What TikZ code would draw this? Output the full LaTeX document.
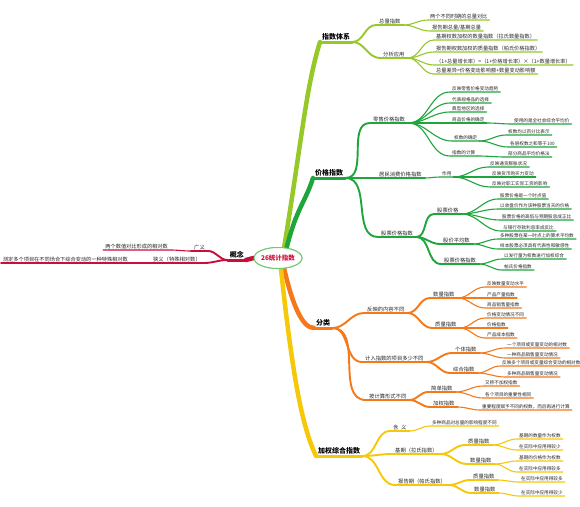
\documentclass[tikz,border=0pt]{standalone}
\usepackage{fontspec}
\setmainfont{Noto Sans CJK SC}
\usetikzlibrary{shapes.geometric}
\definecolor{rootred}{RGB}{208,16,58}
\definecolor{rootring}{RGB}{110,200,110}
\definecolor{limeb}{RGB}{150,200,40}
\definecolor{greenb}{RGB}{30,165,60}
\definecolor{orangeb}{RGB}{245,120,25}
\definecolor{yellowb}{RGB}{245,200,10}
\definecolor{redb}{RGB}{200,15,60}

\begin{document}
\begin{tikzpicture}[x=1pt, y=-1pt,
  root/.style={ellipse, draw=rootring, line width=1pt, fill=white, text=rootred,
               font=\bfseries\fontsize{6.5}{7}\selectfont, minimum width=40pt,
               minimum height=21pt, inner sep=0pt},
  topic/.style={anchor=south west, inner xsep=2pt, inner ysep=1.2pt,
                font=\bfseries\fontsize{7}{8}\selectfont},
  sub/.style={anchor=south west, inner xsep=3pt, inner ysep=1pt, text=black!85,
              font=\fontsize{5.3}{6}\selectfont},
  leaf/.style={anchor=south west, inner xsep=2pt, inner ysep=0.7pt, text=black!85,
               font=\fontsize{4.6}{5}\selectfont},
  bigleaf/.style={leaf, font=\fontsize{5.2}{6}\selectfont},
  trunk/.style={line width=4.5pt, line cap=round},
  limb/.style={line width=3pt, line cap=round},
  twig/.style={line width=1.9pt, line cap=round},
  vein/.style={line width=1.1pt, line cap=round}
]
  \path[use as bounding box, fill=white] (0,0) rectangle (580,506);

  \node[topic] (tixi) at (320,42) {指数体系};
  \node[sub] (zlzs) at (376,25) {总量指数};
  \node[sub] (fxyy) at (380,58) {分析应用};
  \node[bigleaf] (zl1) at (428,20) {两个不同时期的总量对比};
  \node[bigleaf] (zl2) at (430,31) {报告期总量/基期总量};
  \node[bigleaf] (fx1) at (434,40) {基期权数加权的数量指数（拉氏数量指数）};
  \node[bigleaf] (fx2) at (434,52) {报告期权数加权的质量指数（帕氏价格指数）};
  \node[bigleaf] (fx3) at (434,65) {（1+总量增长率）=（1+价格增长率）×（1+数量增长率）};
  \node[bigleaf] (fx4) at (434,74) {总量差异=价格变动影响额+数量变动影响额};

  \node[topic] (jgzs) at (313,178) {价格指数};
  \node[sub] (lszs) at (370,123) {零售价格指数};
  \node[sub] (jmxf) at (376,178) {居民消费价格指数};
  \node[sub] (gpzs) at (378,237) {股票价格指数};
  \node[leaf] (ls1) at (450,92) {反映零售价格变动趋势};
  \node[leaf] (ls2) at (450,103) {代表规格品的选择};
  \node[leaf] (ls3) at (450,112) {典型地区的选择};
  \node[leaf] (ls4) at (450,123) {商品价格的确定};
  \node[leaf] (ls5) at (452,141) {权数的确定};
  \node[leaf] (ls6) at (450,156) {指数的计算};
  \node[leaf] (ls4a) at (512,124) {使用的是全社会综合平均价};
  \node[leaf] (ls5a) at (506,135) {权数均以百分比表示};
  \node[leaf] (ls5b) at (508,147) {各层权数之和等于100};
  \node[leaf] (ls6a) at (506,157) {部分商品平均价格法};
  \node[leaf] (zy) at (440,177) {作用};
  \node[leaf] (zy1) at (488,167) {反映通货膨胀状况};
  \node[leaf] (zy2) at (490,177) {反映货币购买力变动};
  \node[leaf] (zy3) at (490,187) {反映对职工实际工资的影响};
  \node[sub] (gpjg) at (434,214) {股票价格};
  \node[sub] (gjpj) at (440,244) {股价平均数};
  \node[sub] (gpjz) at (441,264) {股票价格指数};
  \node[leaf] (jg1) at (498,199) {股票价格是一个时点值};
  \node[leaf] (jg2) at (498,209) {以收盘价作为该种股票当天的价格};
  \node[leaf] (jg3) at (500,220) {股票价格的高低与预期股息成正比};
  \node[leaf] (jg4) at (501,231) {与银行存款利息率成反比};
  \node[leaf] (pj1) at (498,239) {多种股票在某一时点上的算术平均数};
  \node[leaf] (pj2) at (498,249) {样本股票必须具有代表性和敏感性};
  \node[leaf] (zs1) at (502,259) {以发行量为权数进行加权综合};
  \node[leaf] (zs2) at (502,270) {帕氏价格指数};

  \node[topic] (fl) at (314,328) {分类};
  \node[sub] (fy) at (364,313) {反映的内容不同};
  \node[sub] (jr) at (362,362) {计入指数的项目多少不同};
  \node[sub] (aj) at (366,400) {按计算形式不同};
  \node[sub] (slzs) at (430,298) {数量指数};
  \node[sub] (zlzs2) at (432,328) {质量指数};
  \node[sub] (gtzs) at (452,353) {个体指数};
  \node[sub] (zhzs) at (450,373) {综合指数};
  \node[sub] (jdzs) at (428,392) {简单指数};
  \node[sub] (jqzs) at (430,407) {加权指数};
  \node[leaf] (sl1) at (485,287) {反映数量变动水平};
  \node[leaf] (sl2) at (485,298) {产品产量指数};
  \node[leaf] (sl3) at (485,308) {商品销售量指数};
  \node[leaf] (zl3) at (485,318) {价格变动情况不同};
  \node[leaf] (zl4) at (485,328) {价格指数};
  \node[leaf] (zl5) at (485,338) {产品成本指数};
  \node[leaf] (gt1) at (505,348) {一个项目或变量变动的相对数};
  \node[leaf] (gt2) at (505,358) {一种商品销售量变动情况};
  \node[leaf] (zh1) at (500,366) {反映多个项目或变量综合变动的相对数};
  \node[leaf] (zh2) at (505,377) {多种商品销售量变动情况};
  \node[leaf] (jd1) at (483,386) {又称不加权指数};
  \node[leaf] (jd2) at (483,398) {各个项目的重要性相同};
  \node[leaf] (jq1) at (480,410) {重要程度赋予不同的权数，而后再进行计算};

  \node[topic] (jqzh) at (316,456) {加权综合指数};
  \node[sub] (hy) at (390,431) {含\enspace 义};
  \node[sub] (jqlb) at (392,454) {基期（拉氏指数）};
  \node[sub] (bgps) at (395,485) {报告期（帕氏指数）};
  \node[sub] (lszl) at (465,445) {质量指数};
  \node[sub] (lssl) at (467,464) {数量指数};
  \node[sub] (pszl) at (470,480) {质量指数};
  \node[sub] (pssl) at (471,493) {数量指数};
  \node[leaf] (hy1) at (430,426) {多种商品对总量的影响程度不同};
  \node[leaf] (lz1) at (517,439) {基期的数量作为权数};
  \node[leaf] (lz2) at (517,450) {在实际中应用得较少};
  \node[leaf] (ls7) at (517,461) {基期的价格作为权数};
  \node[leaf] (ls8) at (517,472) {在实际中应用得较多};
  \node[leaf] (pz1) at (519,482) {在实际中应用得较多};
  \node[leaf] (ps1) at (519,496) {在实际中应用得较少};

  \node[topic, anchor=south east] (gn) at (246,260) {概念};
  \node[sub, anchor=south east] (gy) at (208,251) {广义};
  \node[sub, anchor=south east] (xy) at (204,263) {狭义（特殊相对数）};
  \node[bigleaf, anchor=south east] (gy1) at (170,250) {两个数值对比形成的相对数};
  \node[bigleaf, anchor=south east] (xy1) at (130,263) {测定多个项目在不同场合下综合变动的一种特殊相对数};

  \node[root] (root) at (278,258) {26统计指数};

  \draw[trunk, limeb] (root.60) .. controls +(18,-110) and +(-14,45) .. (tixi.south west);
  \draw[limb, limeb] (tixi.south west) -- (tixi.south east);
  \draw[twig, limeb] (tixi.south east) to[out=0,in=180] (zlzs.south west) -- (zlzs.south east);
  \draw[twig, limeb] (tixi.south east) to[out=0,in=180] (fxyy.south west) -- (fxyy.south east);
  \draw[vein, limeb] (zlzs.south east) to[out=0,in=180] (zl1.south west) -- (zl1.south east);
  \draw[vein, limeb] (zlzs.south east) to[out=0,in=180] (zl2.south west) -- (zl2.south east);
  \draw[vein, limeb] (fxyy.south east) to[out=0,in=180] (fx1.south west) -- (fx1.south east);
  \draw[vein, limeb] (fxyy.south east) to[out=0,in=180] (fx2.south west) -- (fx2.south east);
  \draw[vein, limeb] (fxyy.south east) to[out=0,in=180] (fx3.south west) -- (fx3.south east);
  \draw[vein, limeb] (fxyy.south east) to[out=0,in=180] (fx4.south west) -- (fx4.south east);

  \draw[trunk, greenb] (root.50) .. controls +(10,-40) and +(-8,25) .. (jgzs.south west);
  \draw[limb, greenb] (jgzs.south west) -- (jgzs.south east);
  \draw[twig, greenb] (jgzs.south east) to[out=0,in=180] (lszs.south west) -- (lszs.south east);
  \draw[twig, greenb] (jgzs.south east) to[out=0,in=180] (jmxf.south west) -- (jmxf.south east);
  \draw[twig, greenb] (jgzs.south east) to[out=0,in=180] (gpzs.south west) -- (gpzs.south east);
  \draw[vein, greenb] (lszs.south east) to[out=0,in=180] (ls1.south west) -- (ls1.south east);
  \draw[vein, greenb] (lszs.south east) to[out=0,in=180] (ls2.south west) -- (ls2.south east);
  \draw[vein, greenb] (lszs.south east) to[out=0,in=180] (ls3.south west) -- (ls3.south east);
  \draw[vein, greenb] (lszs.south east) to[out=0,in=180] (ls4.south west) -- (ls4.south east);
  \draw[vein, greenb] (lszs.south east) to[out=0,in=180] (ls5.south west) -- (ls5.south east);
  \draw[vein, greenb] (lszs.south east) to[out=0,in=180] (ls6.south west) -- (ls6.south east);
  \draw[vein, greenb] (ls4.south east) to[out=0,in=180] (ls4a.south west) -- (ls4a.south east);
  \draw[vein, greenb] (ls5.south east) to[out=0,in=180] (ls5a.south west) -- (ls5a.south east);
  \draw[vein, greenb] (ls5.south east) to[out=0,in=180] (ls5b.south west) -- (ls5b.south east);
  \draw[vein, greenb] (ls6.south east) to[out=0,in=180] (ls6a.south west) -- (ls6a.south east);
  \draw[vein, greenb] (jmxf.south east) to[out=0,in=180] (zy.south west) -- (zy.south east);
  \draw[vein, greenb] (zy.south east) to[out=0,in=180] (zy1.south west) -- (zy1.south east);
  \draw[vein, greenb] (zy.south east) to[out=0,in=180] (zy2.south west) -- (zy2.south east);
  \draw[vein, greenb] (zy.south east) to[out=0,in=180] (zy3.south west) -- (zy3.south east);
  \draw[twig, greenb] (gpzs.south east) to[out=0,in=180] (gpjg.south west) -- (gpjg.south east);
  \draw[twig, greenb] (gpzs.south east) to[out=0,in=180] (gjpj.south west) -- (gjpj.south east);
  \draw[twig, greenb] (gpzs.south east) to[out=0,in=180] (gpjz.south west) -- (gpjz.south east);
  \draw[vein, greenb] (gpjg.south east) to[out=0,in=180] (jg1.south west) -- (jg1.south east);
  \draw[vein, greenb] (gpjg.south east) to[out=0,in=180] (jg2.south west) -- (jg2.south east);
  \draw[vein, greenb] (gpjg.south east) to[out=0,in=180] (jg3.south west) -- (jg3.south east);
  \draw[vein, greenb] (gpjg.south east) to[out=0,in=180] (jg4.south west) -- (jg4.south east);
  \draw[vein, greenb] (gjpj.south east) to[out=0,in=180] (pj1.south west) -- (pj1.south east);
  \draw[vein, greenb] (gjpj.south east) to[out=0,in=180] (pj2.south west) -- (pj2.south east);
  \draw[vein, greenb] (gpjz.south east) to[out=0,in=180] (zs1.south west) -- (zs1.south east);
  \draw[vein, greenb] (gpjz.south east) to[out=0,in=180] (zs2.south west) -- (zs2.south east);

  \draw[trunk, orangeb] (root.-60) .. controls +(8,35) and +(-12,0) .. (fl.south west);
  \draw[limb, orangeb] (fl.south west) -- (fl.south east);
  \draw[twig, orangeb] (fl.south east) to[out=0,in=180] (fy.south west) -- (fy.south east);
  \draw[twig, orangeb] (fl.south east) to[out=0,in=180] (jr.south west) -- (jr.south east);
  \draw[twig, orangeb] (fl.south east) to[out=0,in=180] (aj.south west) -- (aj.south east);
  \draw[twig, orangeb] (fy.south east) to[out=0,in=180] (slzs.south west) -- (slzs.south east);
  \draw[twig, orangeb] (fy.south east) to[out=0,in=180] (zlzs2.south west) -- (zlzs2.south east);
  \draw[twig, orangeb] (jr.south east) to[out=0,in=180] (gtzs.south west) -- (gtzs.south east);
  \draw[twig, orangeb] (jr.south east) to[out=0,in=180] (zhzs.south west) -- (zhzs.south east);
  \draw[twig, orangeb] (aj.south east) to[out=0,in=180] (jdzs.south west) -- (jdzs.south east);
  \draw[twig, orangeb] (aj.south east) to[out=0,in=180] (jqzs.south west) -- (jqzs.south east);
  \draw[vein, orangeb] (slzs.south east) to[out=0,in=180] (sl1.south west) -- (sl1.south east);
  \draw[vein, orangeb] (slzs.south east) to[out=0,in=180] (sl2.south west) -- (sl2.south east);
  \draw[vein, orangeb] (slzs.south east) to[out=0,in=180] (sl3.south west) -- (sl3.south east);
  \draw[vein, orangeb] (zlzs2.south east) to[out=0,in=180] (zl3.south west) -- (zl3.south east);
  \draw[vein, orangeb] (zlzs2.south east) to[out=0,in=180] (zl4.south west) -- (zl4.south east);
  \draw[vein, orangeb] (zlzs2.south east) to[out=0,in=180] (zl5.south west) -- (zl5.south east);
  \draw[vein, orangeb] (gtzs.south east) to[out=0,in=180] (gt1.south west) -- (gt1.south east);
  \draw[vein, orangeb] (gtzs.south east) to[out=0,in=180] (gt2.south west) -- (gt2.south east);
  \draw[vein, orangeb] (zhzs.south east) to[out=0,in=180] (zh1.south west) -- (zh1.south east);
  \draw[vein, orangeb] (zhzs.south east) to[out=0,in=180] (zh2.south west) -- (zh2.south east);
  \draw[vein, orangeb] (jdzs.south east) to[out=0,in=180] (jd1.south west) -- (jd1.south east);
  \draw[vein, orangeb] (jdzs.south east) to[out=0,in=180] (jd2.south west) -- (jd2.south east);
  \draw[vein, orangeb] (jqzs.south east) to[out=0,in=180] (jq1.south west) -- (jq1.south east);

  \draw[trunk, yellowb] (root.-75) .. controls +(12,110) and +(-14,-30) .. (jqzh.south west);
  \draw[limb, yellowb] (jqzh.south west) -- (jqzh.south east);
  \draw[twig, yellowb] (jqzh.south east) to[out=0,in=180] (hy.south west) -- (hy.south east);
  \draw[twig, yellowb] (jqzh.south east) to[out=0,in=180] (jqlb.south west) -- (jqlb.south east);
  \draw[twig, yellowb] (jqzh.south east) to[out=0,in=180] (bgps.south west) -- (bgps.south east);
  \draw[vein, yellowb] (hy.south east) to[out=0,in=180] (hy1.south west) -- (hy1.south east);
  \draw[twig, yellowb] (jqlb.south east) to[out=0,in=180] (lszl.south west) -- (lszl.south east);
  \draw[twig, yellowb] (jqlb.south east) to[out=0,in=180] (lssl.south west) -- (lssl.south east);
  \draw[twig, yellowb] (bgps.south east) to[out=0,in=180] (pszl.south west) -- (pszl.south east);
  \draw[twig, yellowb] (bgps.south east) to[out=0,in=180] (pssl.south west) -- (pssl.south east);
  \draw[vein, yellowb] (lszl.south east) to[out=0,in=180] (lz1.south west) -- (lz1.south east);
  \draw[vein, yellowb] (lszl.south east) to[out=0,in=180] (lz2.south west) -- (lz2.south east);
  \draw[vein, yellowb] (lssl.south east) to[out=0,in=180] (ls7.south west) -- (ls7.south east);
  \draw[vein, yellowb] (lssl.south east) to[out=0,in=180] (ls8.south west) -- (ls8.south east);
  \draw[vein, yellowb] (pszl.south east) to[out=0,in=180] (pz1.south west) -- (pz1.south east);
  \draw[vein, yellowb] (pssl.south east) to[out=0,in=180] (ps1.south west) -- (ps1.south east);

  \draw[trunk, redb] (root.west) to[out=180,in=0] (gn.south east);
  \draw[limb, redb] (gn.south east) -- (gn.south west);
  \draw[twig, redb] (gn.south west) to[out=180,in=0] (gy.south east) -- (gy.south west);
  \draw[twig, redb] (gn.south west) to[out=180,in=0] (xy.south east) -- (xy.south west);
  \draw[vein, redb] (gy.south west) to[out=180,in=0] (gy1.south east) -- (gy1.south west);
  \draw[vein, redb] (xy.south west) to[out=180,in=0] (xy1.south east) -- (xy1.south west);

  \node[root] at (root) {26统计指数};
\end{tikzpicture}
\end{document}
